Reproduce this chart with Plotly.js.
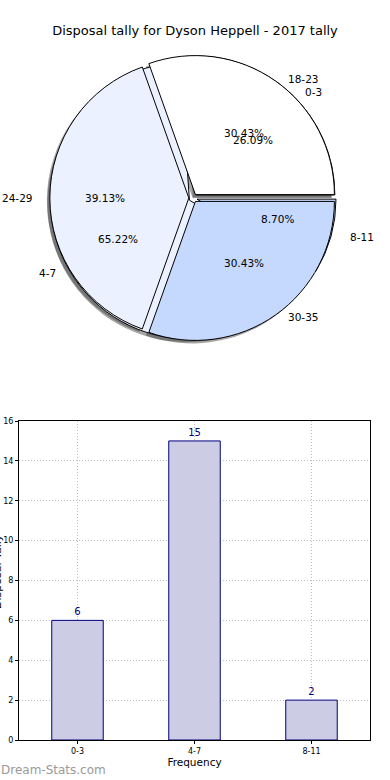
<!DOCTYPE html>
<html><head><meta charset="utf-8">
<script src="https://cdn.plot.ly/plotly-3.0.1.min.js"></script>
<style>html,body{margin:0;padding:0;background:#fff}#chart{width:390px;height:780px}</style>
</head><body><div id="chart"></div>
<script>
// ---- data ----
const pieLabelsA = ['0-3', '4-7', '8-11'];
const pieValuesA = [6, 15, 2];
const pieLabelsB = ['18-23', '24-29', '30-35'];
const pieValuesB = [7, 9, 7];
const barCategories = ['0-3', '4-7', '8-11'];
const barValues = [6, 15, 2];
const yTickValues = [0, 2, 4, 6, 8, 10, 12, 14, 16];
const titleText = 'Disposal tally for Dyson Heppell - 2017 tally';

// ---- styling / layout helpers ----
const FONT = 'DejaVu Sans, Verdana, sans-serif';
const sliceColors = ['#ffffff', '#ebf1fe', '#c5d9ff'];
const W = 390, H = 780;
const px = x => x / W, py = y => 1 - y / H;
const cx = 193, cy = 198, R = 139, pull = 0.03;
const RX = 146, RY = 132; // text placement radii
const half = R * (1 + pull);
function dom(dx, dy) {
  return {x: [px(cx - half + dx), px(cx + half + dx)], y: [py(cy + half + dy), py(cy - half + dy)]};
}
// first slice starts at 3 o'clock and runs counterclockwise.
// In Plotly's counterclockwise mode the rotation line is the far edge of the first slice.
function rotationFor(values) {
  const total = values.reduce((a, b) => a + b, 0);
  return 90 - 360 * values[0] / total;
}
function pieTrace(labels, values, colors, d, lineW) {
  return {
    type: 'pie', labels: labels, values: values, sort: false,
    direction: 'counterclockwise', rotation: rotationFor(values),
    pull: values.map(() => pull),
    marker: {colors: colors, line: {color: '#000000', width: lineW}},
    textinfo: 'none', hoverinfo: 'label+percent', showlegend: false,
    domain: d
  };
}
const shadowCol = v => v.map(() => 'rgba(60,60,60,0.45)');

function pieAnnotations(labels, values) {
  const total = values.reduce((a, b) => a + b, 0);
  let start = 0; const out = [];
  values.forEach((v, i) => {
    const frac = v / total;
    const mid = (start + frac / 2) * 2 * Math.PI;
    start += frac;
    const c = Math.cos(mid), s = Math.sin(mid);
    out.push({xref: 'paper', yref: 'paper', x: px(cx + 0.6 * RX * c), y: py(cy - 0.6 * RY * s),
      text: (frac * 100).toFixed(2) + '%', showarrow: false, xanchor: 'center', yanchor: 'middle',
      borderpad: 0, font: {family: FONT, size: 10.5, color: '#000'}});
    out.push({xref: 'paper', yref: 'paper', x: px(cx + 1.5 + 1.1 * RX * c), y: py(cy - 1.1 * RY * s),
      text: labels[i], showarrow: false, xanchor: c >= 0 ? 'left' : 'right', yanchor: 'middle',
      borderpad: 0, font: {family: FONT, size: 10.5, color: '#000'}});
  });
  return out;
}

const data = [
  pieTrace(pieLabelsA, pieValuesA, shadowCol(pieValuesA), dom(-3, 3), 0),
  pieTrace(pieLabelsB, pieValuesB, shadowCol(pieValuesB), dom(-3, 3), 0),
  pieTrace(pieLabelsA, pieValuesA, sliceColors, dom(0, 0), 1),
  pieTrace(pieLabelsB, pieValuesB, sliceColors, dom(0, 0), 1),
  {
    type: 'bar', x: barCategories, y: barValues, width: 0.44,
    marker: {color: '#ccccE5', line: {color: '#000080', width: 1}},
    text: barValues.map(String), textposition: 'outside', cliponaxis: false,
    textfont: {family: FONT, size: 10, color: '#000080'},
    hoverinfo: 'x+y', showlegend: false, xaxis: 'x', yaxis: 'y'
  }
];

const axisCommon = {
  showline: true, mirror: true, linecolor: '#000', linewidth: 1,
  showgrid: true, gridcolor: '#bdbdbd', gridwidth: 1, griddash: '1px,2px',
  ticks: 'outside', ticklen: 3, tickcolor: '#000', zeroline: false,
  tickfont: {family: FONT, size: 8, color: '#000'}, fixedrange: true
};

const layout = {
  width: W, height: H, margin: {l: 0, r: 0, t: 0, b: 0},
  paper_bgcolor: '#fff', plot_bgcolor: '#fff',
  font: {family: FONT, color: '#000'},
  title: {text: titleText, x: 0.5, xanchor: 'center', y: py(30), yanchor: 'middle',
          font: {family: FONT, size: 13, color: '#000'}},
  xaxis: Object.assign({}, axisCommon, {
    domain: [px(19), px(370)], type: 'category', range: [-0.5, 2.5],
    title: {text: 'Frequency', font: {family: FONT, size: 10.5, color: '#000'}, standoff: 3}
  }),
  yaxis: Object.assign({}, axisCommon, {
    domain: [py(740), py(421)], range: [0, 16], tickvals: yTickValues
  }),
  annotations: pieAnnotations(pieLabelsA, pieValuesA).concat(pieAnnotations(pieLabelsB, pieValuesB)).concat([
    {xref: 'paper', yref: 'paper', x: px(4.5), y: py(572), xanchor: 'right', yanchor: 'middle',
     textangle: -90, text: 'Disposal Tally', showarrow: false, borderpad: 0,
     font: {family: FONT, size: 11, color: '#000'}},
    {xref: 'paper', yref: 'paper', x: 0, y: py(770), xanchor: 'left', yanchor: 'middle',
     text: 'Dream-Stats.com', showarrow: false, borderpad: 0,
     font: {family: FONT, size: 12, color: '#9a9a9a'}}
  ])
};

Plotly.newPlot('chart', data, layout, {displayModeBar: false, staticPlot: true});
</script>
</body></html>
